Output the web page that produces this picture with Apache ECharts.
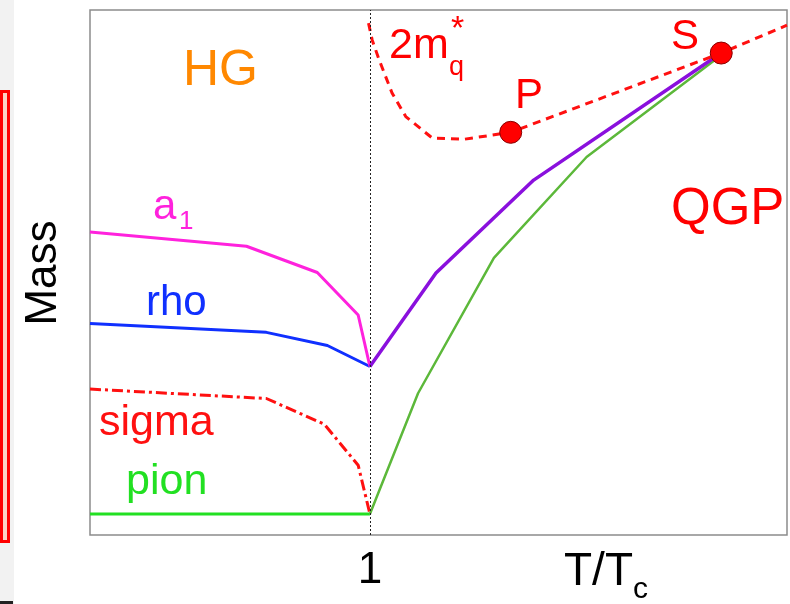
<!DOCTYPE html>
<html>
<head>
<meta charset="utf-8">
<script src="https://cdn.jsdelivr.net/npm/echarts@6/dist/echarts.min.js"></script>
<style>
  html, body { margin: 0; padding: 0; background: #fff; }
  #chart { width: 790px; height: 604px; }
</style>
</head>
<body>
<div id="chart"></div>
<script>
// x = T/Tc, y = mass (arbitrary units, 0..100)
const xTicks = [1]
const a1Data = [[0, 57.7], [0.559, 55.0], [0.812, 50.0], [0.958, 41.9], [1.0, 32.1]]
const rhoData = [[0, 40.3], [0.630, 38.6], [0.848, 36.1], [1.0, 32.1]]
const sigmaData = [[0, 27.8], [0.630, 26.0], [0.837, 21.1], [0.958, 13.3], [1.0, 4.0]]
const pionData = [[0, 4.0], [1.0, 4.0]]
const pionQgpData = [[1.0, 4.0], [1.172, 27.0], [1.443, 52.8], [1.774, 72.0], [2.25, 91.2]]
const vectorQgpData = [[1.0, 32.1], [1.236, 49.9], [1.585, 67.6], [2.255, 91.8]]
const quarkMassData = [[0.995, 97.5], [1.008, 94.3], [1.033, 90.5], [1.079, 84.2], [1.128, 79.7],
    [1.223, 75.6], [1.339, 75.4], [1.503, 76.7], [2.255, 91.8], [2.49, 97.1]]
const pointsPS = [[1.503, 76.7], [2.255, 91.8]]

const font = '"Liberation Sans", Arial, sans-serif'

const txt = (text, x, y, size, color, extra) => Object.assign({
    type: 'text', x: x, y: y, z: 50,
    style: { text: text, fontSize: size, fontFamily: font, fill: color, verticalAlign: 'middle', align: 'left' }
}, extra || {})

const chart = echarts.init(document.getElementById('chart'))
const option = {
    animation: false,
    backgroundColor: '#fff',
    grid: {
        left: 90, right: 1, top: 10, bottom: 69, containLabel: false,
        show: true, borderColor: '#8c8c8c', borderWidth: 1.5, backgroundColor: 'transparent'
    },
    xAxis: {
        type: 'value', min: 0, max: 2.49, interval: 1,
        axisLine: { show: false }, axisTick: { show: false }, splitLine: { show: false },
        axisLabel: {
            margin: 14, fontSize: 44, color: '#000', fontFamily: font,
            formatter: v => (xTicks.indexOf(v) >= 0 ? String(v) : '')
        }
    },
    yAxis: {
        type: 'value', min: 0, max: 100,
        axisLine: { show: false }, axisTick: { show: false }, splitLine: { show: false },
        axisLabel: { show: false }
    },
    series: [
        {
            name: 'pion', type: 'line', data: pionData, symbol: 'none',
            lineStyle: { color: '#22e022', width: 3 },
            markLine: {
                silent: true, symbol: 'none', label: { show: false },
                lineStyle: { color: '#222', type: [2, 2], width: 1 },
                data: [{ xAxis: 1 }]
            }
        },
        { name: 'sigma', type: 'line', data: sigmaData, symbol: 'none',
          lineStyle: { color: '#ff1010', width: 3, type: [11, 4, 3, 4] } },
        { name: 'rho', type: 'line', data: rhoData, symbol: 'none',
          lineStyle: { color: '#1030ff', width: 3 } },
        { name: 'a1', type: 'line', data: a1Data, symbol: 'none',
          lineStyle: { color: '#ff22dd', width: 3 } },
        { name: 'pion QGP', type: 'line', data: pionQgpData, symbol: 'none',
          lineStyle: { color: '#5cb83a', width: 2.5 } },
        { name: 'rho/a1 QGP', type: 'line', data: vectorQgpData, symbol: 'none',
          lineStyle: { color: '#8a10dd', width: 3.5 } },
        { name: '2mq*', type: 'line', data: quarkMassData, symbol: 'none',
          lineStyle: { color: '#ff1010', width: 3, type: [8, 6] } },
        { name: 'P S', type: 'scatter', data: pointsPS, symbolSize: 22, z: 10,
          itemStyle: { color: '#ff0000', borderColor: '#8a0000', borderWidth: 1, opacity: 1 } }
    ],
    graphic: [
        { type: 'rect', shape: { x: 0, y: 0, width: 14, height: 604 }, style: { fill: '#f2f2f2' }, z: 1 },
        { type: 'rect', shape: { x: 1.5, y: 91.5, width: 7, height: 450 },
          style: { fill: '#fcd2c4', stroke: '#ff0000', lineWidth: 3 }, z: 2 },
        { type: 'rect', shape: { x: 0, y: 601, width: 13, height: 3 }, style: { fill: '#222' }, z: 2 },
        txt('HG', 183, 71, 50, '#ff8800'),
        txt('QGP', 671, 210, 51, '#ff0000'),
        txt('2m', 389, 46, 43, '#ff0000'),
        txt('*', 451, 30, 34, '#ff0000'),
        txt('q', 449, 68, 27, '#ff0000'),
        txt('P', 515, 96, 42, '#ff0000'),
        txt('S', 671, 37, 42, '#ff0000'),
        txt('a', 153, 207, 42, '#ff22dd'),
        txt('1', 179, 222, 26, '#ff22dd'),
        txt('rho', 146, 303, 42, '#1030ff'),
        txt('sigma', 99, 423, 43, '#ff1010'),
        txt('pion', 126, 482, 43, '#22e022'),
        txt('T/T', 564, 572, 46, '#000'),
        txt('c', 633, 590, 30, '#000'),
        txt('Mass', 44, 273, 44, '#000', { rotation: Math.PI / 2, style: { text: 'Mass', fontSize: 44, fontFamily: font, fill: '#000', align: 'center', verticalAlign: 'middle' } })
    ]
}
chart.setOption(option)
</script>
</body>
</html>
